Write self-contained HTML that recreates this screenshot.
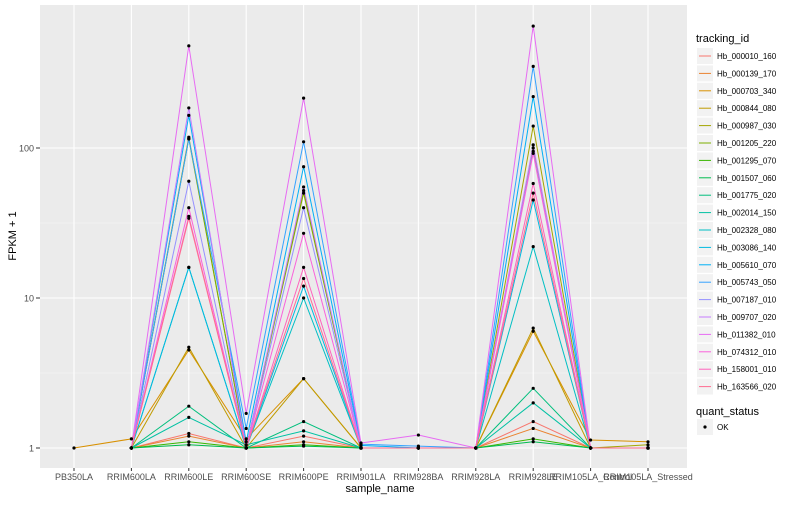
<!DOCTYPE html>
<html><head><meta charset="utf-8"><style>
body{margin:0;background:#fff;font-family:"Liberation Sans",sans-serif}
</style></head><body>
<svg id="s" width="800" height="500" xmlns="http://www.w3.org/2000/svg" font-family="Liberation Sans, sans-serif"></svg>
<script>
const S=document.getElementById('s');let h='';
const L=40,R=687,T=5,B=468;
h+=`<rect x="${L}" y="${T}" width="${R-L}" height="${B-T}" fill="#ebebeb"/>`;
const Y=v=>448-150*Math.log10(v);
// minor grid
[Math.sqrt(10),Math.sqrt(1000)].forEach(v=>{h+=`<line x1="${L}" x2="${R}" y1="${Y(v)}" y2="${Y(v)}" stroke="#f5f5f5" stroke-width="0.6"/>`});
h+=`<line x1="${L}" x2="${R}" y1="${Y(10000)}" y2="${Y(10000)}" stroke="#f5f5f5" stroke-width="0.6"/>`;
[1,10,100].forEach(v=>{h+=`<line x1="${L}" x2="${R}" y1="${Y(v)}" y2="${Y(v)}" stroke="#fff" stroke-width="1.1"/>`;
h+=`<text x="34" y="${Y(v)+3.5}" font-size="9" text-anchor="end" fill="#4d4d4d">${v}</text><line x1="36" x2="40" y1="${Y(v)}" y2="${Y(v)}" stroke="#333"/>`;});
const cats=["PB350LA","RRIM600LA","RRIM600LE","RRIM600SE","RRIM600PE","RRIM901LA","RRIM928BA","RRIM928LA","RRIM928LE","RRIM105LA_Control","RRIM105LA_Stressed"];
const X=i=>74+i*57.4;
cats.forEach((c,i)=>{h+=`<line x1="${X(i)}" x2="${X(i)}" y1="${T}" y2="${B}" stroke="#fff" stroke-width="1.1"/>`;
h+=`<line x1="${X(i)}" x2="${X(i)}" y1="${B}" y2="${B+3}" stroke="#333"/><text x="${X(i)}" y="480" font-size="9" text-anchor="middle" fill="#4d4d4d">${c}</text>`;});
const cols=["#F8766D","#EA8331","#D89000","#C09B00","#A3A500","#7CAE00","#39B600","#00BB4E","#00BF7D","#00C1A3","#00BFC4","#00BAE0","#00B0F6","#35A2FF","#9590FF","#C77CFF","#E76BF3","#FA62DB","#FF62BC","#FF6C91"];
const pk=[[1.25,1.2,1.5],[1.2,1.1,1.35],[4.5,2.9,6.0],[4.7,2.9,6.3],[118,52,140],[115,50,100],[1.1,1.05,1.15],[1.05,1.03,1.1],[1.9,1.5,2.5],[1.6,1.3,2.0],[16,10,22],[16,12,45],[165,75,220],[115,110,350],[60,40,95],[185,55,105],[480,215,650],[40,27,92],[35,16,58],[34,13.5,50]];
const se={16:1.7,13:1.35,2:1.15,12:1.1,9:1.05};
const la9={16:1.08,13:1.06,12:1.04};
let pts='';
cols.forEach((c,i)=>{const p=pk[i];
let v=[null,i==2?1.15:1,p[0],se[i]||1,p[1],la9[i]||1,i==16?1.22:(i==13?1.03:1),1,p[2],i==2?1.13:1,i==2?1.1:(i==4?1.05:1)];
if(i==2)v[0]=1;
let d='';v.forEach((y,k)=>{if(y==null)return;d+=(d?'L':'M')+X(k).toFixed(1)+','+Y(y).toFixed(1);pts+=`<circle cx="${X(k)}" cy="${Y(y)}" r="1.6" fill="#000"/>`;});
h+=`<path d="${d}" fill="none" stroke="${c}" stroke-width="1"/>`;});
h+=pts;
h+=`<text x="380" y="492" font-size="11" text-anchor="middle" fill="#000">sample_name</text>`;
h+=`<text transform="translate(16,236) rotate(-90)" font-size="11" text-anchor="middle" fill="#000">FPKM + 1</text>`;
h+=`<text x="696" y="42" font-size="11" fill="#000">tracking_id</text>`;
const ids=["Hb_000010_160","Hb_000139_170","Hb_000703_340","Hb_000844_080","Hb_000987_030","Hb_001205_220","Hb_001295_070","Hb_001507_060","Hb_001775_020","Hb_002014_150","Hb_002328_080","Hb_003086_140","Hb_005610_070","Hb_005743_050","Hb_007187_010","Hb_009707_020","Hb_011382_010","Hb_074312_010","Hb_158001_010","Hb_163566_020"];
ids.forEach((t,i)=>{const y=56+i*17.4;
h+=`<rect x="697" y="${y-8}" width="16" height="16" fill="#f2f2f2"/><line x1="699" x2="711" y1="${y}" y2="${y}" stroke="${cols[i]}"/>`;
h+=`<text x="717" y="${y+3}" font-size="8" fill="#000">${t}</text>`;});
h+=`<text x="696" y="415" font-size="11" fill="#000">quant_status</text>`;
h+=`<rect x="697" y="419" width="16" height="16" fill="#f2f2f2"/><circle cx="705" cy="427" r="1.6" fill="#000"/><text x="717" y="430" font-size="8" fill="#000">OK</text>`;
S.innerHTML=h;
</script>
</body></html>
